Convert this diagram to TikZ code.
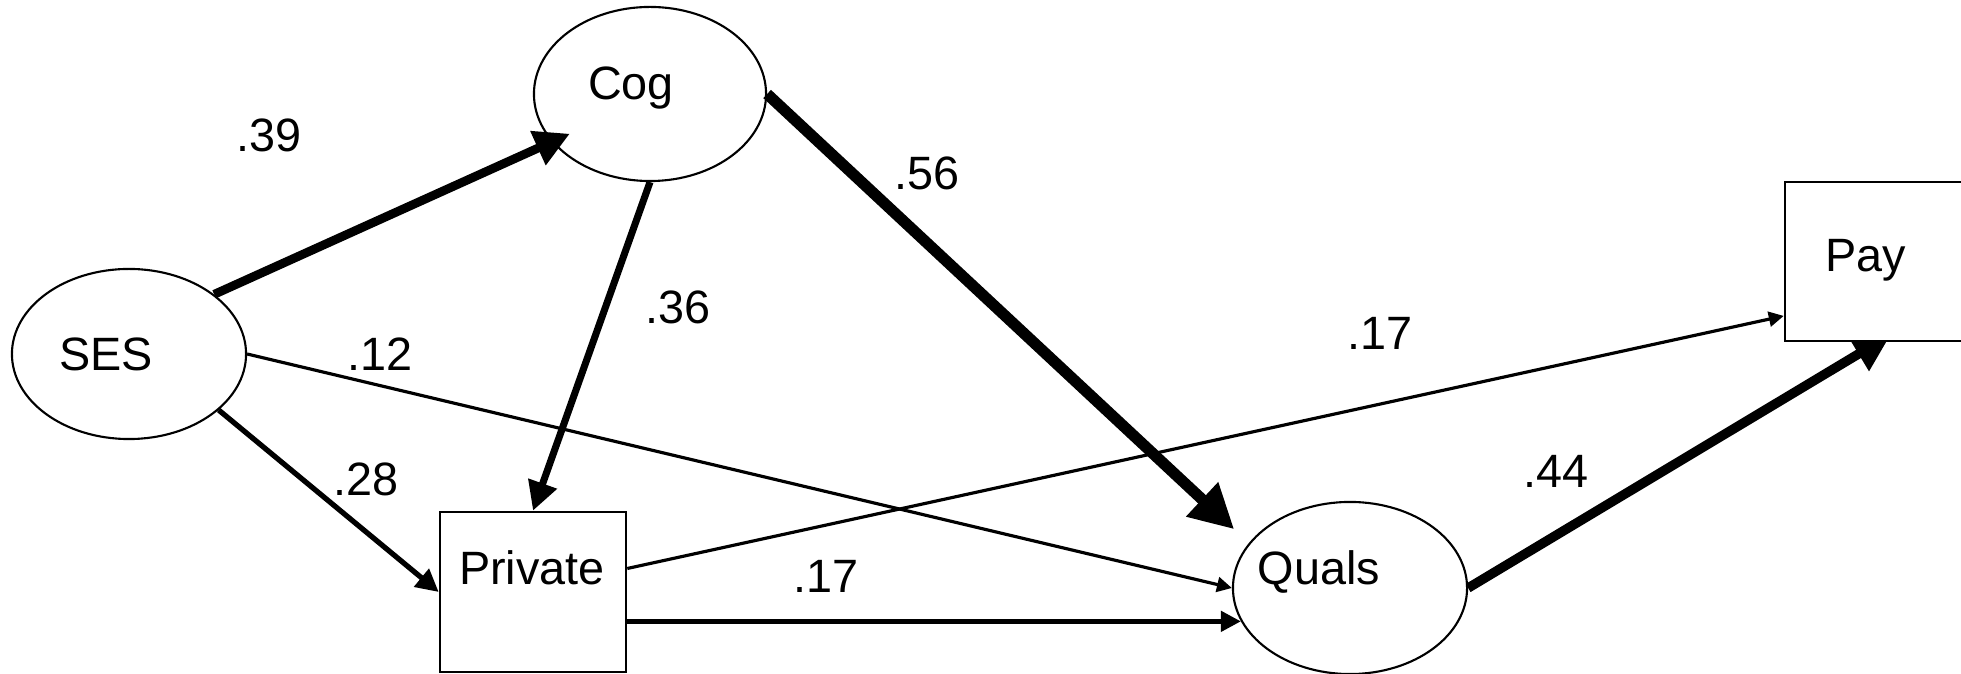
\documentclass[tikz,border=0pt]{standalone}
\usepackage{fontspec}
\setmainfont{Liberation Sans}
\usetikzlibrary{arrows.meta,shapes.geometric,backgrounds}
\newcommand\pathfont{\fontsize{13.3pt}{16pt}\selectfont}
\tikzset{
  >={Triangle[length=1pt 3.6,width=1pt 3.6]},
  latent/.style={ellipse,draw,line width=0.6pt,inner sep=0pt},
  obs/.style={rectangle,draw,fill=white,line width=0.7pt,inner sep=0pt,
    minimum width=1.86cm},
  flow/.style={->,line width=#1},
  flow/.default=0.9pt,
  tag/.style={font=\pathfont,anchor=base,inner sep=0pt},
  coef/.style={font=\pathfont,anchor=base,inner sep=0pt},
}
\begin{document}
\begin{tikzpicture}[x=0.01cm,y=-0.01cm]
  \useasboundingbox (0,0) rectangle (1961,674);
  % variables
  \node[latent,minimum width=2.34cm,minimum height=1.70cm] (ses) at (129,354) {};
  \node[latent,minimum width=2.32cm,minimum height=1.74cm] (cog) at (650,94) {};
  \node[latent,minimum width=2.34cm,minimum height=1.72cm] (quals) at (1350,588) {};
  \node[obs,minimum height=1.60cm] (private) at (533,592) {};
  \node[obs,minimum height=1.59cm] (pay) at (1878,261.5) {};
  \node[tag] (ses-t) at (106,371) {SES};
  \node[tag] (cog-t) at (631,100) {Cog};
  \node[tag] (private-t) at (532,585) {Private};
  \node[tag] (quals-t) at (1319,585) {Quals};
  \node[tag] (pay-t) at (1866,272) {Pay};
  % paths
  \begin{scope}[on background layer]
    \draw[flow=2.5pt,shorten >=-0.2cm] (ses.35) -- (cog.206);
    \draw[flow=1.5pt] (ses.-32) -- (private.west);
    \draw[flow] (ses.east) -- (quals.west);
    \draw[flow=2pt] (cog.south) -- (private.north);
    \draw[flow=3.2pt,shorten >=0.2cm] (cog.east) -- (quals.156);
    \draw[flow] (private.14) -- (pay.210);
    \draw[flow=1.3pt] (quals.197 -| private.east) -- (quals.197);
    \draw[flow=2.7pt,shorten >=-0.15cm] (quals.east) -- (pay.south);
  \end{scope}
  % coefficients
  \node[coef] (c-ses-cog) at (269,152) {.39};
  \node[coef] (c-ses-quals) at (380,371) {.12};
  \node[coef] (c-ses-private) at (366,496) {.28};
  \node[coef] (c-cog-private) at (678,324) {.36};
  \node[coef] (c-cog-quals) at (927,190) {.56};
  \node[coef] (c-private-pay) at (1380,350) {.17};
  \node[coef] (c-private-quals) at (826,593) {.17};
  \node[coef] (c-quals-pay) at (1556,488) {.44};
\end{tikzpicture}
\end{document}
